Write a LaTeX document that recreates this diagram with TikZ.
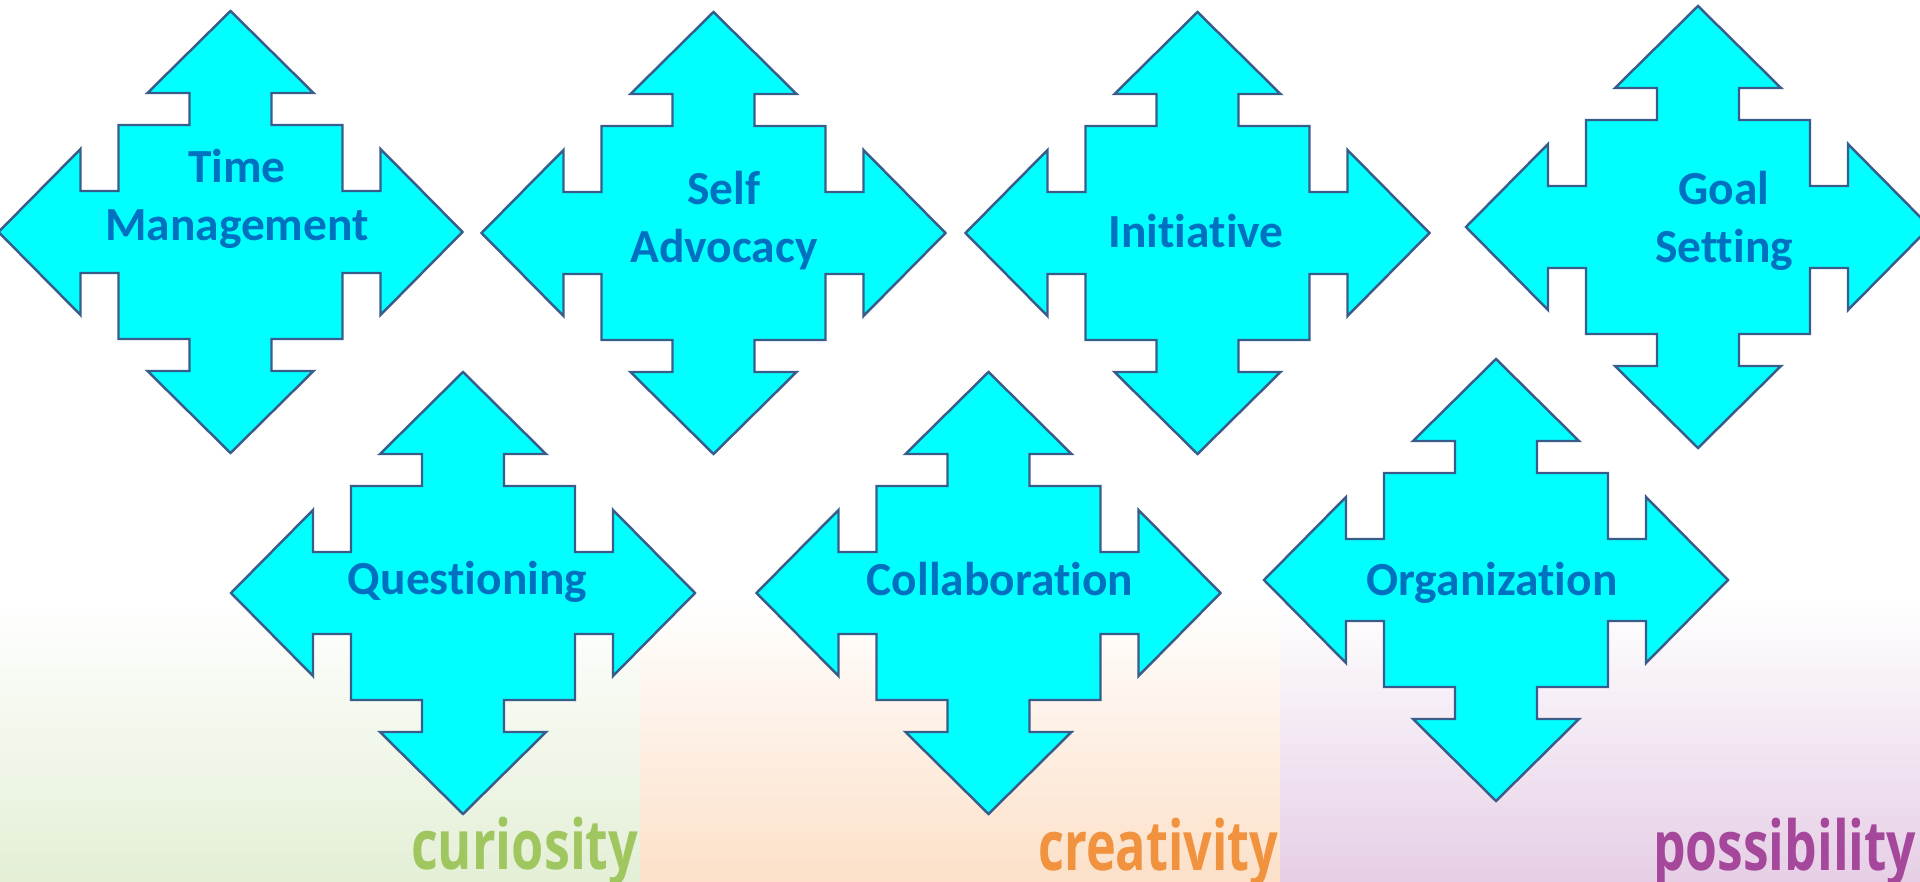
\documentclass[tikz,border=0pt]{standalone}
\usepackage{fontspec}
\setmainfont{Carlito}[Ligatures=CommonOff]
\newfontfamily\wordfont{Open Sans}
\usepackage{tikz}
\definecolor{arrowfill}{HTML}{00FFFF}
\definecolor{arrowline}{HTML}{385D8A}
\definecolor{labelblue}{HTML}{0070C0}
\definecolor{curiogreen}{HTML}{A0C660}
\definecolor{creaorange}{HTML}{F0923E}
\definecolor{posspurple}{HTML}{A5489C}
\definecolor{greentint}{HTML}{E4EFD6}
\definecolor{peachtint}{HTML}{FCE0C8}
\definecolor{lilactint}{HTML}{E6CFE6}
\tikzset{
  skill/.style={text=labelblue, align=center, inner sep=0pt, anchor=base,
    font=\bfseries\fontsize{13.5pt}{16.5pt}\selectfont},
  trait/.style={anchor=base east, inner sep=0pt,
    font=\wordfont\bfseries\fontsize{19.6pt}{20pt}\selectfont}
}
\def\quadarrow(#1,#2){\draw[arrowline, fill=arrowfill, line width=0.7pt, shift={(#1,#2)}]
  (0,-221) -- (83,-139) -- (41,-139) -- (41,-107) -- (112,-107) -- (112,-41) -- (150,-41) -- (150,-83)
  -- (232,0) -- (150,83) -- (150,41) -- (112,41) -- (112,107) -- (41,107) -- (41,139) -- (83,139)
  -- (0,221) -- (-83,139) -- (-41,139) -- (-41,107) -- (-112,107) -- (-112,41) -- (-150,41) -- (-150,83)
  -- (-232,0) -- (-150,-83) -- (-150,-41) -- (-112,-41) -- (-112,-107) -- (-41,-107) -- (-41,-139) -- (-83,-139) -- cycle;}

\begin{document}
\begin{tikzpicture}[x=0.01cm, y=-0.01cm]
	%%%%% START %%%%%
	\useasboundingbox (0, 0) rectangle (1920, 882);
	
	\shade[top color=white, bottom color=greentint] (0, 600) rectangle (640, 882);
	\shade[top color=white, bottom color=peachtint] (640, 600) rectangle (1280, 882);
	\shade[top color=white, bottom color=lilactint] (1280, 600) rectangle (1920, 882);
	
	\begin{scope}
		\clip (0, 0) rectangle (1920, 882);
		\quadarrow(230.5,232)
		\quadarrow(713.5,233)
		\quadarrow(1197.5,233)
		\quadarrow(1698,227)
		\quadarrow(463,593)
		\quadarrow(988.5,593)
		\quadarrow(1496,580)
	\end{scope}
	
	% two-line labels sit on the baseline of their last line
	\node[skill] (time) at (237, 240.7) {Time\\Management};
	\node[skill] (self) at (724, 262.3) {Self\\Advocacy};
	\node[skill] (init) at (1196, 247.3) {Initiative};
	\node[skill] (goal) at (1724, 262.3) {Goal\\Setting};
	\node[skill] (quest) at (467.5, 594) {Questioning};
	\node[skill] (collab) at (1000, 595) {Collaboration};
	\node[skill] (org) at (1492, 595) {Organization};
	
	\node[trait, text=curiogreen] (curio) at (639, 869.5) {\resizebox{2.27cm}{\height}{curiosity}};
	\node[trait, text=creaorange] (crea) at (1279, 870) {\resizebox{2.40cm}{\height}{creativity}};
	\node[trait, text=posspurple] (poss) at (1917, 870) {\resizebox{2.63cm}{\height}{possibility}};
	
	%%%%% END %%%%%
\end{tikzpicture}
\end{document}
